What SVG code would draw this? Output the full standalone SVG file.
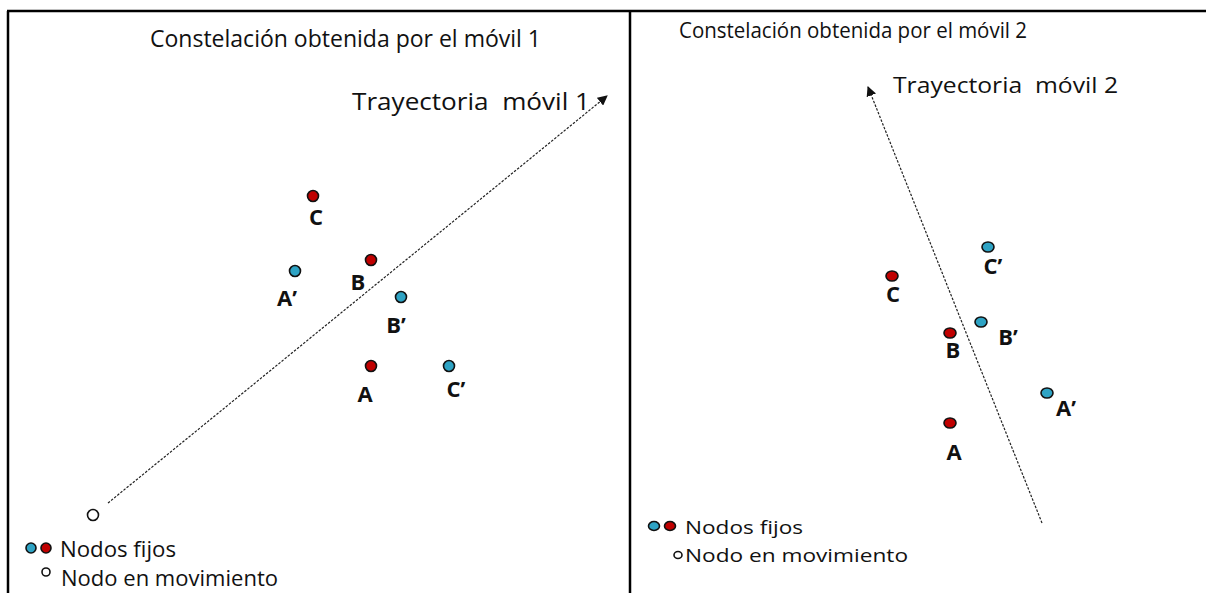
<svg xmlns="http://www.w3.org/2000/svg" width="1206" height="593" viewBox="0 0 1206 593">
<defs>
<style>
.t{font-family:"Open Sans","Noto Sans","Liberation Sans",sans-serif;font-size:24px;fill:#111}
.m{font-size:22px}
.s{font-size:19px}
.l{font-family:"Open Sans","Noto Sans","Liberation Sans",sans-serif;font-size:22px;font-weight:bold;fill:#111;text-anchor:middle}
.red{fill:#c00000;stroke:#111;stroke-width:1.6}
.cyan{fill:#2ea3c4;stroke:#111;stroke-width:1.6}
.open{fill:#fff;stroke:#111;stroke-width:1.6}
.frame{stroke:#000;stroke-width:2.5;fill:none}
.traj{stroke:#222;stroke-width:1.2;stroke-dasharray:2.5 1.5;fill:none}
</style>
<marker id="ah" viewBox="0 0 10 10" refX="9" refY="5" markerWidth="10" markerHeight="10" markerUnits="userSpaceOnUse" orient="auto">
<path d="M0,0 L10,5 L0,10 z" fill="#111"/>
</marker>
</defs>
<rect width="1206" height="593" fill="#fff"/>
<g id="frame">
<line class="frame" x1="7" y1="11" x2="1206" y2="11"/>
<line class="frame" x1="8" y1="11" x2="8" y2="593"/>
<line class="frame" x1="630" y1="11" x2="630" y2="593"/>
</g>
<g id="connectors">
<line class="traj" x1="108" y1="503" x2="607" y2="96" marker-end="url(#ah)"/>
<line class="traj" x1="1042" y1="523" x2="868" y2="87" marker-end="url(#ah)"/>
</g>
<g id="titles">
<text class="t" x="150" y="47" textLength="391" lengthAdjust="spacingAndGlyphs">Constelación obtenida por el móvil 1</text>
<text class="t" x="352" y="110" textLength="238" lengthAdjust="spacingAndGlyphs" xml:space="preserve">Trayectoria  móvil 1</text>
<text class="t m" x="679" y="38" textLength="348" lengthAdjust="spacingAndGlyphs">Constelación obtenida por el móvil 2</text>
<text class="t m" x="893" y="93" textLength="225" lengthAdjust="spacingAndGlyphs" xml:space="preserve">Trayectoria  móvil 2</text>
</g>
<g id="left-C"><circle class="red" cx="313" cy="196" r="5.5"/><text class="l" x="316" y="225">C</text></g>
<g id="left-A1"><circle class="cyan" cx="295" cy="271" r="5.5"/><text class="l" x="287" y="306">A’</text></g>
<g id="left-B"><circle class="red" cx="371" cy="260" r="5.5"/><text class="l" x="358" y="290">B</text></g>
<g id="left-B1"><circle class="cyan" cx="401" cy="297" r="5.5"/><text class="l" x="396" y="333">B’</text></g>
<g id="left-A"><circle class="red" cx="371" cy="366" r="5.5"/><text class="l" x="365" y="402">A</text></g>
<g id="left-C1"><circle class="cyan" cx="449" cy="366" r="5.5"/><text class="l" x="456" y="397">C’</text></g>
<g id="left-moving"><circle class="open" cx="93" cy="515" r="5.5"/></g>
<g id="left-legend">
<circle class="cyan" cx="31" cy="548" r="5"/><circle class="red" cx="46" cy="548" r="5"/>
<text class="t m" x="60" y="557" textLength="116" lengthAdjust="spacingAndGlyphs">Nodos fijos</text>
<circle class="open" cx="46" cy="572" r="4"/>
<text class="t m" x="61" y="586" textLength="217" lengthAdjust="spacingAndGlyphs">Nodo en movimiento</text>
</g>
<g id="right-C1"><ellipse class="cyan" cx="988" cy="247" rx="6" ry="5"/><text class="l" x="993" y="274">C’</text></g>
<g id="right-C"><ellipse class="red" cx="892" cy="276" rx="6" ry="5"/><text class="l" x="893" y="302">C</text></g>
<g id="right-B1"><ellipse class="cyan" cx="981" cy="322" rx="6" ry="5"/><text class="l" x="1008" y="345">B’</text></g>
<g id="right-B"><ellipse class="red" cx="950" cy="333" rx="6" ry="5"/><text class="l" x="953" y="358">B</text></g>
<g id="right-A1"><ellipse class="cyan" cx="1047" cy="393" rx="6" ry="5"/><text class="l" x="1066" y="416">A’</text></g>
<g id="right-A"><ellipse class="red" cx="950" cy="423" rx="6" ry="5"/><text class="l" x="954" y="460">A</text></g>
<g id="right-legend">
<ellipse class="cyan" cx="654" cy="526" rx="5.5" ry="4.5"/><ellipse class="red" cx="670" cy="526" rx="5.5" ry="4.5"/>
<text class="t s" x="685" y="534" textLength="118" lengthAdjust="spacingAndGlyphs">Nodos fijos</text>
<ellipse class="open" cx="678" cy="555" rx="4" ry="3.5"/>
<text class="t s" x="685" y="562" textLength="223" lengthAdjust="spacingAndGlyphs">Nodo en movimiento</text>
</g>
</svg>
